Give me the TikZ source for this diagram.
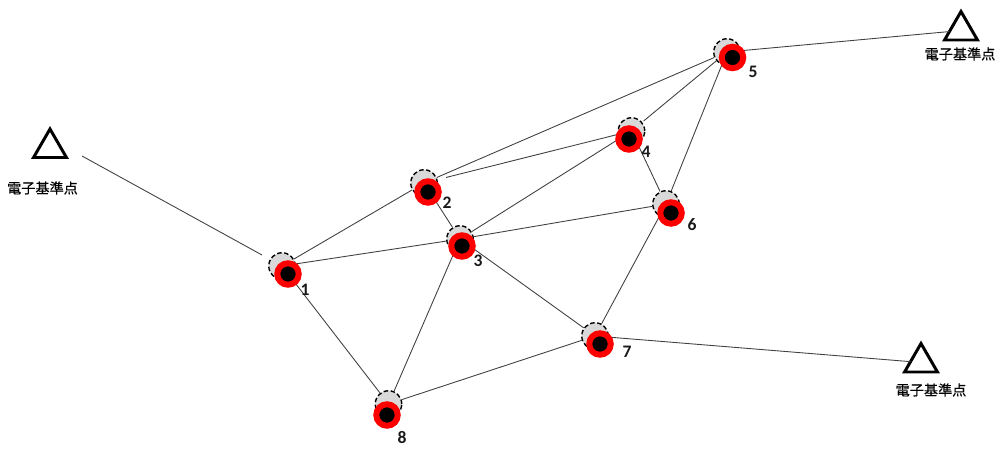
\documentclass[tikz,border=0pt]{standalone}
\usepackage{fontspec}
\setmainfont{Carlito}
\newfontfamily\jpfont[FakeBold=0.35]{Noto Sans CJK JP}
\usetikzlibrary{shapes.geometric}
\definecolor{basegray}{RGB}{217,217,217}
\tikzset{
    oldpos/.style={circle, draw, fill=basegray, line width=0.8pt, dash pattern=on 2.6pt off 1.4pt, minimum size=0.53cm, inner sep=0pt},
    newpos/.style={circle, draw=red, fill=black, line width=3.4pt, minimum size=0.43cm, inner sep=0pt},
    baseline/.style={draw=black!75, line width=0.5pt},
    refpoint/.style={regular polygon, regular polygon sides=3, draw, line width=1.7pt, fill=white, minimum size=0.76cm, inner sep=0pt, outer sep=0pt},
    reflabel/.style={font=\jpfont\fontsize{8.05}{9}\selectfont, text=black},
    numlabel/.style={font=\bfseries\fontsize{10}{11}\selectfont, text=black!90}
}
\begin{document}
\begin{tikzpicture}[x=0.02cm, y=-0.02cm]
    \useasboundingbox (0,0) rectangle (1000,459);

    % Reference points
    \node[refpoint] (refA) at (50,148) {};
    \node[refpoint] (refB) at (961,30.5) {};
    \node[refpoint] (refC) at (921,362.5) {};
    \node[reflabel] (refAtext) at (42.5,188) {電子基準点};
    \node[reflabel] (refBtext) at (960,54) {電子基準点};
    \node[reflabel] (refCtext) at (931,390) {電子基準点};
    \coordinate (refAend) at (82,156);

    % Earlier positions
    \foreach \name/\x/\y in {o1/282/266, o2/424/183, o3/460/239, o4/631.5/131,
                             o5/727/52, o6/666/204, o7/595/336, o8/388.5/404}
        \node[oldpos] (\name) at (\x,\y) {};

    % Baselines
    \foreach \a/\b in {o1/o2, o1/o3, o1/o8, o2/o3, o2/o5, o3/o4, o3/o6, o3/o7,
                       o3/o8, o4/o6, o5/o6, o6/o7, o7/o8, o5/refB, o7/refC}
        \path[baseline] (\a) -- (\b);
    \path[baseline, shorten <=5pt] (o2) -- (o4);
    \path[baseline, shorten <=1pt] (o4) -- (o5);
    \path[baseline, shorten >=5pt] (refAend) -- (o1);

    % Moved positions
    \foreach \name/\x/\y in {n1/288/274, n2/428/192, n3/462/246, n4/629/139,
                             n5/732.5/57.5, n6/671/213, n7/600/344, n8/387/415}
        \node[newpos] (\name) at (\x,\y) {};

    % Numbers
    \node[numlabel] (t1) at (305,290) {1};
    \node[numlabel] (t2) at (447,203) {2};
    \node[numlabel] (t3) at (478,261) {3};
    \node[numlabel] (t4) at (646,152) {4};
    \node[numlabel] (t5) at (753,72) {5};
    \node[numlabel] (t6) at (692,225) {6};
    \node[numlabel] (t7) at (627,352) {7};
    \node[numlabel] (t8) at (402,437) {8};
\end{tikzpicture}
\end{document}
